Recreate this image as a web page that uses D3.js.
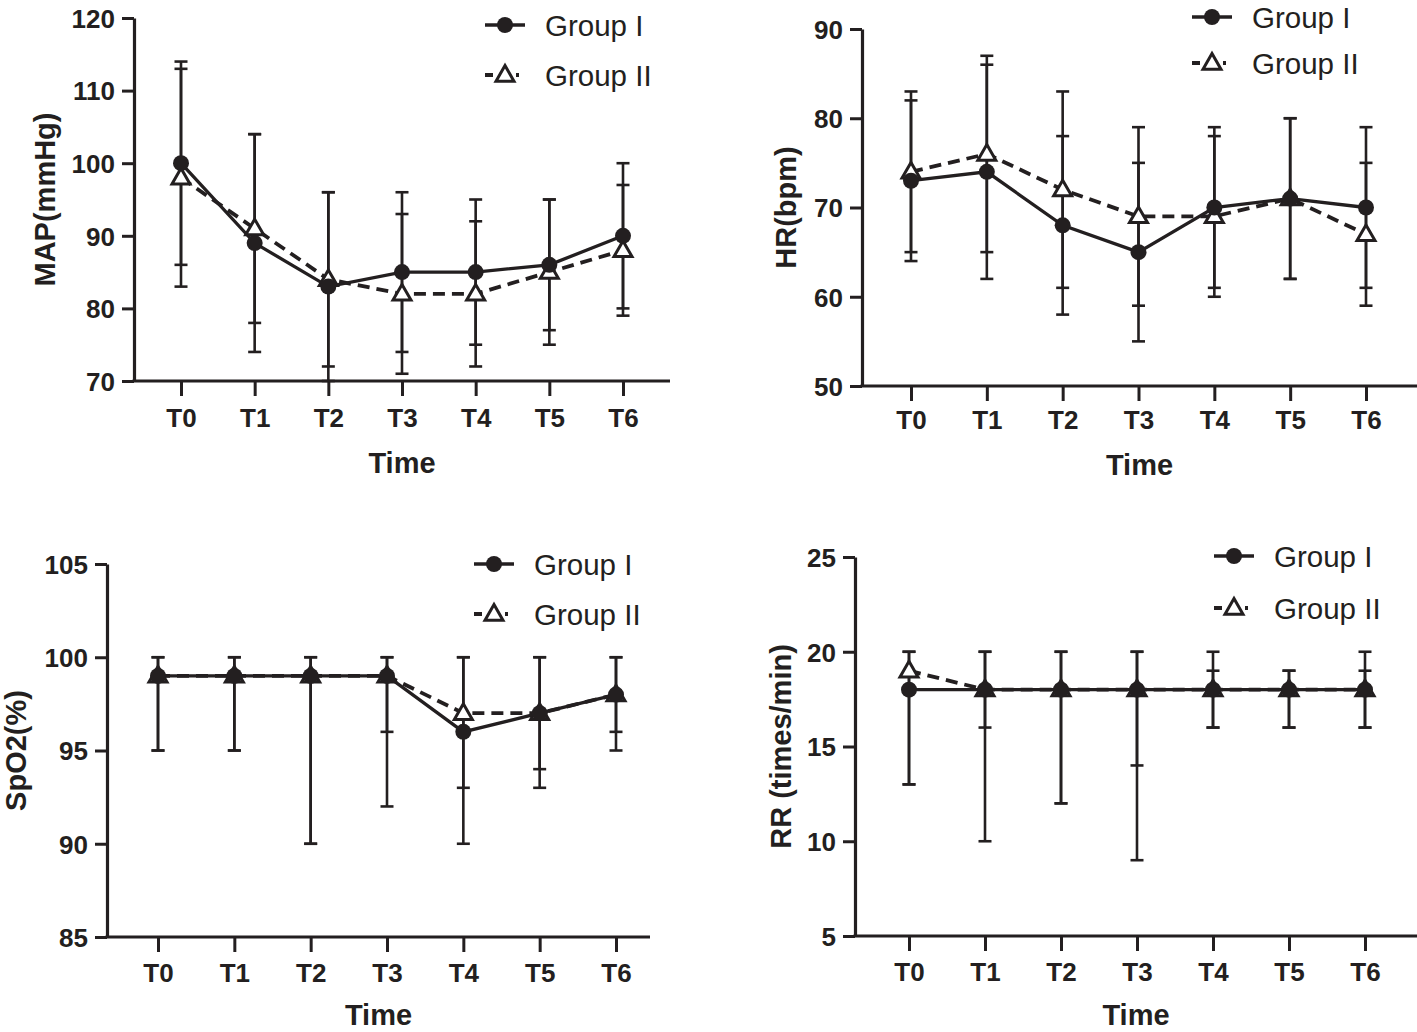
<!DOCTYPE html>
<html>
<head>
<meta charset="utf-8">
<script src="https://cdn.jsdelivr.net/npm/d3@7"></script>
<style>
  html, body { margin: 0; padding: 0; background: #fff; }
  svg { display: block; }
  text { font-family: "Liberation Sans", Arial, sans-serif; fill: #231f20; }
</style>
</head>
<body>
<script>
// ---------------- DATA ----------------
const timePoints = ["T0", "T1", "T2", "T3", "T4", "T5", "T6"];
const groupNames = ["Group I", "Group II"];

// MAP (mmHg)
const mapTicks = [70, 80, 90, 100, 110, 120];
const mapG1 = [100, 89, 83, 85, 85, 86, 90];
const mapG1Upper = [114, 104, 96, 96, 95, 95, 100];
const mapG1Lower = [86, 74, 70, 74, 75, 77, 80];
const mapG2 = [98, 91, 84, 82, 82, 85, 88];
const mapG2Upper = [113, 104, 96, 93, 92, 95, 97];
const mapG2Lower = [83, 78, 72, 71, 72, 75, 79];

// HR (bpm)
const hrTicks = [50, 60, 70, 80, 90];
const hrG1 = [73, 74, 68, 65, 70, 71, 70];
const hrG1Upper = [82, 86, 78, 75, 79, 80, 79];
const hrG1Lower = [64, 62, 58, 55, 61, 62, 61];
const hrG2 = [74, 76, 72, 69, 69, 71, 67];
const hrG2Upper = [83, 87, 83, 79, 78, 80, 75];
const hrG2Lower = [65, 65, 61, 59, 60, 62, 59];

// SpO2 (%)
const spo2Ticks = [85, 90, 95, 100, 105];
const spo2G1 = [99, 99, 99, 99, 96, 97, 98];
const spo2G1Upper = [100, 100, 100, 100, 100, 100, 100];
const spo2G1Lower = [95, 95, 90, 92, 90, 93, 95];
const spo2G2 = [99, 99, 99, 99, 97, 97, 98];
const spo2G2Upper = [100, 100, 100, 100, 100, 100, 100];
const spo2G2Lower = [95, 95, 90, 96, 93, 94, 96];

// RR (times/min)
const rrTicks = [5, 10, 15, 20, 25];
const rrG1 = [18, 18, 18, 18, 18, 18, 18];
const rrG1Upper = [20, 20, 20, 20, 20, 19, 20];
const rrG1Lower = [13, 10, 12, 9, 16, 16, 16];
const rrG2 = [19, 18, 18, 18, 18, 18, 18];
const rrG2Upper = [20, 20, 20, 20, 19, 19, 19];
const rrG2Lower = [13, 16, 12, 14, 16, 16, 16];

// ---------------- LAYOUT ----------------
const W = 1417, H = 1032;
const INK = "#231f20";

const panels = [
  { yTitle: "MAP(mmHg)", ticks: mapTicks,
    g1: [mapG1, mapG1Upper, mapG1Lower], g2: [mapG2, mapG2Upper, mapG2Lower],
    axisX: 134, top: 18, bottom: 381, xFirst: 181, xLast: 623, xEnd: 670,
    yTitleX: 45, tickLabY: 427, timeY: 473, legX: 485, legY: 25, legGap: 50 },
  { yTitle: "HR(bpm)", ticks: hrTicks,
    g1: [hrG1, hrG1Upper, hrG1Lower], g2: [hrG2, hrG2Upper, hrG2Lower],
    axisX: 862, top: 29, bottom: 386, xFirst: 911, xLast: 1366, xEnd: 1417,
    yTitleX: 786, tickLabY: 429, timeY: 475, legX: 1192, legY: 17, legGap: 46 },
  { yTitle: "SpO2(%)", ticks: spo2Ticks,
    g1: [spo2G1, spo2G1Upper, spo2G1Lower], g2: [spo2G2, spo2G2Upper, spo2G2Lower],
    axisX: 107, top: 564, bottom: 937, xFirst: 158, xLast: 616, xEnd: 650,
    yTitleX: 16, tickLabY: 982, timeY: 1025, legX: 474, legY: 564, legGap: 50 },
  { yTitle: "RR (times/min)", ticks: rrTicks,
    g1: [rrG1, rrG1Upper, rrG1Lower], g2: [rrG2, rrG2Upper, rrG2Lower],
    axisX: 855, top: 557, bottom: 936, xFirst: 909, xLast: 1365, xEnd: 1417,
    yTitleX: 781, tickLabY: 981, timeY: 1025, legX: 1214, legY: 556, legGap: 52 }
];

const svg = d3.select("body").append("svg").attr("width", W).attr("height", H);

const triangle = d3.symbol().type(d3.symbolTriangle).size(140);

function drawMarker(g, kind, x, y) {
  if (kind === 0) {
    g.append("circle").attr("cx", x).attr("cy", y).attr("r", 8)
      .attr("fill", INK).attr("stroke", "none");
  } else {
    g.append("path").attr("d", triangle)
      .attr("transform", `translate(${x},${y + 1})`)
      .attr("fill", "#fff").attr("stroke", INK).attr("stroke-width", 3);
  }
}

panels.forEach(p => {
  const g = svg.append("g");
  const x = d3.scalePoint().domain(timePoints).range([p.xFirst, p.xLast]);
  const y = d3.scaleLinear().domain([p.ticks[0], p.ticks[p.ticks.length - 1]]).range([p.bottom, p.top]);

  // Y axis
  const ya = g.append("g").attr("transform", `translate(${p.axisX},0)`)
    .call(d3.axisLeft(y).tickValues(p.ticks).tickSize(12).tickSizeOuter(0).tickPadding(7));
  ya.select(".domain").attr("stroke", INK).attr("stroke-width", 3.2);
  ya.selectAll(".tick line").attr("stroke", INK).attr("stroke-width", 3);
  ya.selectAll(".tick text").attr("font-size", 26).attr("font-weight", "bold")
    .attr("fill", INK).attr("dy", "0.36em");

  // X axis
  const xa = g.append("g").attr("transform", `translate(0,${p.bottom})`)
    .call(d3.axisBottom(x).tickSize(15).tickSizeOuter(0).tickPadding(0));
  xa.select(".domain").remove();
  xa.selectAll(".tick line").attr("stroke", INK).attr("stroke-width", 3);
  xa.selectAll(".tick text").attr("font-size", 26).attr("font-weight", "bold")
    .attr("fill", INK).attr("y", p.tickLabY - p.bottom).attr("dy", 0);
  g.append("line").attr("x1", p.axisX - 1.5).attr("x2", p.xEnd)
    .attr("y1", p.bottom).attr("y2", p.bottom)
    .attr("stroke", INK).attr("stroke-width", 3.2);

  // Axis titles
  g.append("text").attr("x", (p.axisX + p.xEnd) / 2).attr("y", p.timeY)
    .attr("text-anchor", "middle").attr("font-size", 29).attr("font-weight", "bold")
    .text("Time");
  g.append("text")
    .attr("transform", `translate(${p.yTitleX},${(p.top + p.bottom) / 2}) rotate(-90)`)
    .attr("text-anchor", "middle").attr("dy", "0.36em")
    .attr("font-size", 29).attr("font-weight", "bold").text(p.yTitle);

  // Error bars (both groups)
  [p.g2, p.g1].forEach(series => {
    const [mean, up, lo] = series;
    timePoints.forEach((t, i) => {
      const cx = x(t);
      g.append("line").attr("x1", cx).attr("x2", cx).attr("y1", y(up[i])).attr("y2", y(lo[i]))
        .attr("stroke", INK).attr("stroke-width", 2.6);
      [up[i], lo[i]].forEach(v => {
        g.append("line").attr("x1", cx - 6.5).attr("x2", cx + 6.5).attr("y1", y(v)).attr("y2", y(v))
          .attr("stroke", INK).attr("stroke-width", 2.6);
      });
    });
  });

  // Lines + markers: Group II (dashed, triangles) under Group I (solid, circles)
  const line = d3.line().x((d, i) => x(timePoints[i])).y(d => y(d));
  g.append("path").datum(p.g2[0]).attr("d", line).attr("fill", "none")
    .attr("stroke", INK).attr("stroke-width", 3.8).attr("stroke-dasharray", "12,7");
  p.g2[0].forEach((v, i) => drawMarker(g, 1, x(timePoints[i]), y(v)));
  g.append("path").datum(p.g1[0]).attr("d", line).attr("fill", "none")
    .attr("stroke", INK).attr("stroke-width", 3.3);
  p.g1[0].forEach((v, i) => drawMarker(g, 0, x(timePoints[i]), y(v)));

  // Legend
  groupNames.forEach((name, k) => {
    const ly = p.legY + k * p.legGap;
    const lg = g.append("g");
    lg.append("line").attr("x1", p.legX).attr("x2", p.legX + 40).attr("y1", ly).attr("y2", ly)
      .attr("stroke", INK).attr("stroke-width", k === 0 ? 3.3 : 3.8)
      .attr("stroke-dasharray", k === 0 ? null : "8,7,10,6,3");
    drawMarker(lg, k, p.legX + 20, ly);
    lg.append("text").attr("x", p.legX + 60).attr("y", ly).attr("dy", "0.36em")
      .attr("font-size", 29.5).text(name);
  });
});
</script>
</body>
</html>
